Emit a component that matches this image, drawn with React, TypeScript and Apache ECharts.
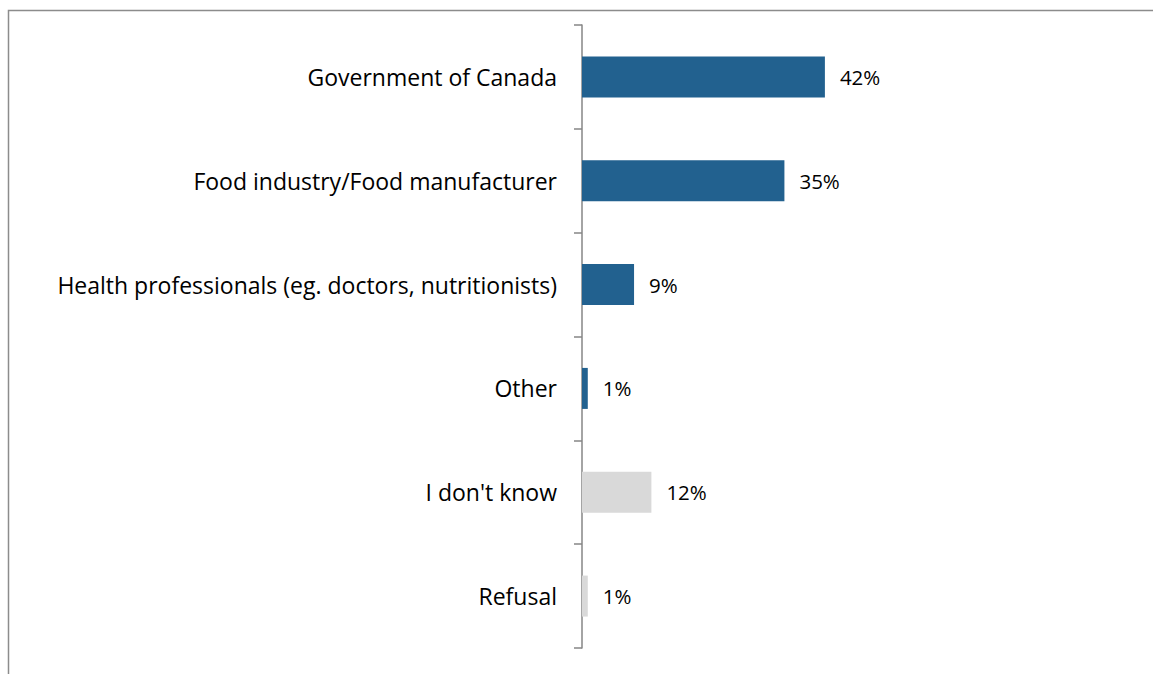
import React, { useEffect, useRef } from "react";
import * as echarts from "echarts";

const categories = [
  "Government of Canada",
  "Food industry/Food manufacturer",
  "Health professionals (eg. doctors, nutritionists)",
  "Other",
  "I don't know",
  "Refusal",
];
const values = [42, 35, 9, 1, 12, 1];
const barColors = ["#22618F", "#22618F", "#22618F", "#22618F", "#D9D9D9", "#D9D9D9"];

export default function App() {
  const ref = useRef<HTMLDivElement>(null);
  useEffect(() => {
    if (!ref.current) return;
    const chart = echarts.init(ref.current, null, { renderer: "svg" });
    chart.setOption({
      animation: false,
      backgroundColor: "#ffffff",
      textStyle: { fontFamily: "Open Sans" },
      graphic: [
        {
          type: "rect",
          shape: { x: 8.5, y: 10.5, width: 1300, height: 800 },
          style: { fill: "none", stroke: "#8c8c8c", lineWidth: 1.5 },
          silent: true,
        },
      ],
      grid: { left: 582, right: 224, top: 25, bottom: 26, containLabel: false },
      xAxis: {
        type: "value",
        min: 0,
        max: 60,
        show: false,
        splitLine: { show: false },
      },
      yAxis: {
        type: "category",
        inverse: true,
        data: categories,
        axisLine: { show: true, lineStyle: { color: "#868686", width: 1.5 } },
        axisTick: { show: true, length: 8, lineStyle: { color: "#868686", width: 1.5 } },
        axisLabel: {
          margin: 25,
          color: "#000000",
          fontSize: 23,
          fontFamily: "Open Sans",
        },
      },
      series: [
        {
          type: "bar",
          barWidth: 41,
          data: values.map((v, i) => ({ value: v, itemStyle: { color: barColors[i] } })),
          label: {
            show: true,
            position: "right",
            distance: 15,
            formatter: "{c}%",
            color: "#000000",
            fontSize: 20.5,
            fontFamily: "Open Sans",
          },
        },
      ],
    });
    return () => chart.dispose();
  }, []);
  return (
    <div
      ref={ref}
      style={{ position: "absolute", left: 0, top: 0, width: 1153, height: 674 }}
    />
  );
}
